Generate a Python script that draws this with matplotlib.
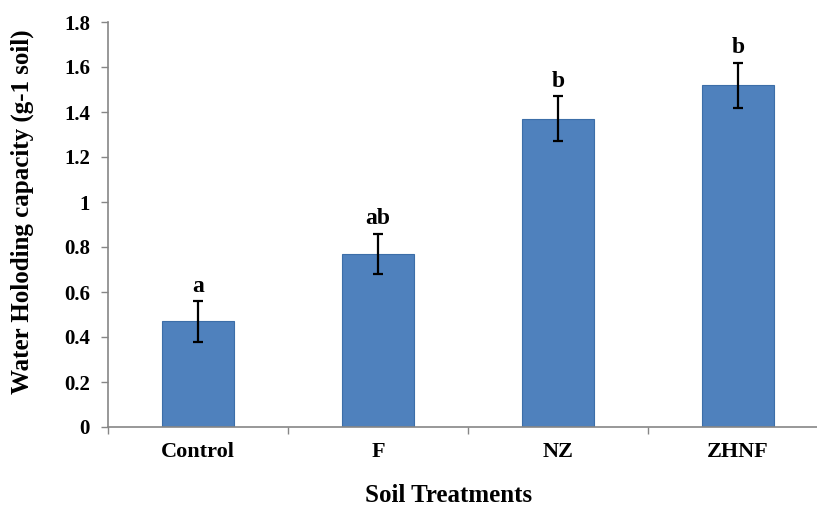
import matplotlib
matplotlib.use("Agg")
import matplotlib.pyplot as plt
from matplotlib.ticker import FixedLocator, FuncFormatter

# Water holding capacity by soil treatment
treatments = ["Control", "F", "NZ", "ZHNF"]
whc_mean = [0.47, 0.77, 1.37, 1.52]
whc_err = [0.09, 0.09, 0.10, 0.10]
groups = ["a", "ab", "b", "b"]
y_ticks = [0, 0.2, 0.4, 0.6, 0.8, 1.0, 1.2, 1.4, 1.6, 1.8]

plt.rcParams["font.family"] = ["Liberation Serif", "DejaVu Serif"]
plt.rcParams["font.weight"] = "bold"

fig = plt.figure(figsize=(8.17, 5.14), dpi=100)
ax = fig.add_axes([108 / 817, 1 - 427 / 514, 720 / 817, 405 / 514])

x = list(range(len(treatments)))
ax.bar(x, whc_mean, width=0.4, color="#4F81BD", edgecolor="#3C6EA8",
       linewidth=0.8, zorder=2)
ax.errorbar(x, whc_mean, yerr=whc_err, fmt="none", ecolor="black",
            elinewidth=1.6, capsize=3.8, capthick=1.6, zorder=3)

for xi, m, e, g in zip(x, whc_mean, whc_err, groups):
    ax.annotate(g, (xi, m + e), xytext=(0, 6.5), textcoords="offset points",
                ha="center", va="baseline", fontsize=17, fontweight="bold")

ax.set_xlim(-0.5, len(treatments) - 0.5)
ax.set_ylim(0, 1.8)

ax.yaxis.set_major_locator(FixedLocator(y_ticks))
ax.yaxis.set_major_formatter(FuncFormatter(lambda v, p: f"{v:g}"))
ax.tick_params(axis="y", direction="out", length=5, width=1, color="#868686",
               labelsize=15, pad=8)

# category boundaries carry the tick marks, labels sit at the centres
ax.xaxis.set_major_locator(FixedLocator([i - 0.5 for i in range(len(treatments) + 1)]))
ax.xaxis.set_major_formatter(FuncFormatter(lambda v, p: ""))
ax.xaxis.set_minor_locator(FixedLocator(x))
ax.xaxis.set_minor_formatter(FuncFormatter(lambda v, p: treatments[int(round(v))]))
ax.tick_params(axis="x", which="major", direction="out", length=5, width=1,
               color="#868686")
ax.tick_params(axis="x", which="minor", length=0, labelsize=16, pad=11)

for side in ("top", "right"):
    ax.spines[side].set_visible(False)
for side in ("left", "bottom"):
    ax.spines[side].set_color("#868686")
    ax.spines[side].set_linewidth(1.2)

for lab in ax.get_xticklabels(minor=True) + ax.get_yticklabels():
    lab.set_fontweight("bold")

fig.text(22 / 817, 1 - 212 / 514, "Water Holoding capacity (g-1 soil)",
         rotation=90, ha="center", va="center", fontsize=18, fontweight="bold")
fig.text(449 / 817, 1 - 495 / 514, "Soil Treatments", ha="center", va="center",
         fontsize=18, fontweight="bold")

fig.savefig("out.png", dpi=100)
